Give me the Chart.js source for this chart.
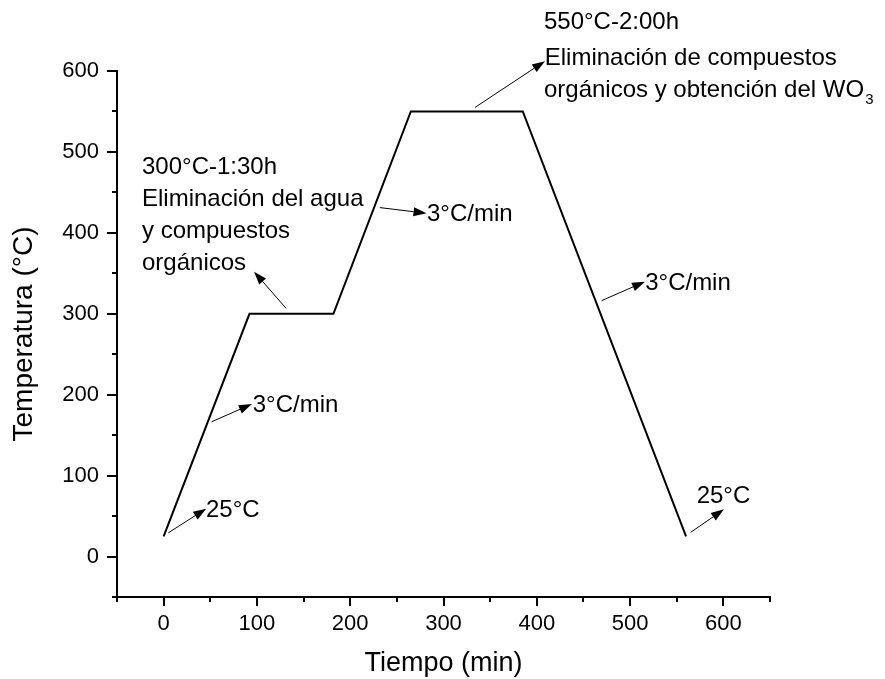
<!DOCTYPE html>
<html>
<head>
<meta charset="utf-8">
<script src="https://cdn.jsdelivr.net/npm/chart.js@4.4.1/dist/chart.umd.min.js"></script>
<style>
  html, body { margin: 0; padding: 0; background: #fff; }
  #wrap { width: 885px; height: 679px; }
</style>
</head>
<body>
<div id="wrap"><canvas id="rampChart"></canvas></div>
<script>
// heating programme: time (min) vs temperature (°C)
const timeMin = [0, 92, 182, 265, 385, 560];
const tempC = [25, 300, 300, 550, 550, 25];

// labelled ticks (minor ticks every 50 carry no label)
const xTickLabels = [0, 100, 200, 300, 400, 500, 600];
const yTickLabels = [0, 100, 200, 300, 400, 500, 600];

// arrows, in data units: [tailX, tailY, headX, headY]
const arrows = [
  [5, 29.3, 45.6, 59.2],
  [51.5, 166.6, 94.6, 188.4],
  [231.8, 431.2, 281.8, 424.2],
  [469.5, 316.2, 516, 339.7],
  [565, 29.9, 600.6, 58.3],
  [131.2, 306.8, 96.9, 352],
  [333.9, 555.1, 408.8, 612.2]
];

// text notes: left x and baseline y in data units
const noteText = [
  '25°C', '3°C/min', '3°C/min', '3°C/min', '25°C',
  '300°C-1:30h', 'Eliminación del agua', 'y compuestos', 'orgánicos',
  '550°C-2:00h', 'Eliminación de compuestos', 'orgánicos y obtención del WO'
];
const noteX = [45.4, 95.5, 282.3, 516.2, 571.4, -23.2, -23.2, -23.2, -23.2, 407.7, 408.5, 407.7];
const noteY = [48.8, 178, 414.7, 329.4, 66.1, 472.8, 433.3, 393.7, 354.1, 651.5, 607.5, 568];
const noteSub = ['', '', '', '', '', '', '', '', '', '', '', '3'];

const FONT = "'Liberation Sans', Arial, sans-serif";

const axisTicks = {
  id: 'axisTicks',
  afterDraw(chart) {
    const { ctx, chartArea, scales: { x, y } } = chart;
    ctx.save();
    ctx.strokeStyle = '#000';
    ctx.lineWidth = 2;
    ctx.beginPath();
    x.ticks.forEach(t => {
      const px = Math.round(x.getPixelForValue(t.value));
      const len = t.value % 100 === 0 ? 9 : 5;
      ctx.moveTo(px, chartArea.bottom);
      ctx.lineTo(px, chartArea.bottom + len);
    });
    y.ticks.forEach(t => {
      const py = Math.round(y.getPixelForValue(t.value));
      const len = t.value % 100 === 0 ? 10 : 5;
      ctx.moveTo(chartArea.left, py);
      ctx.lineTo(chartArea.left - len, py);
    });
    ctx.stroke();
    ctx.restore();
  }
};

const notes = {
  id: 'notes',
  afterDatasetsDraw(chart) {
    const { ctx, scales: { x, y } } = chart;
    ctx.save();
    ctx.strokeStyle = '#000';
    ctx.fillStyle = '#000';
    ctx.lineWidth = 1;
    arrows.forEach(([x0, y0, x1, y1]) => {
      const ax = x.getPixelForValue(x0), ay = y.getPixelForValue(y0);
      const bx = x.getPixelForValue(x1), by = y.getPixelForValue(y1);
      const ang = Math.atan2(by - ay, bx - ax);
      const hl = 13, hw = 4.5;
      const baseX = bx - hl * Math.cos(ang), baseY = by - hl * Math.sin(ang);
      ctx.beginPath();
      ctx.moveTo(ax, ay);
      ctx.lineTo(baseX, baseY);
      ctx.stroke();
      ctx.beginPath();
      ctx.moveTo(bx, by);
      ctx.lineTo(baseX + hw * Math.sin(ang), baseY - hw * Math.cos(ang));
      ctx.lineTo(baseX - hw * Math.sin(ang), baseY + hw * Math.cos(ang));
      ctx.closePath();
      ctx.fill();
    });
    ctx.textAlign = 'left';
    ctx.textBaseline = 'alphabetic';
    noteText.forEach((txt, i) => {
      const px = x.getPixelForValue(noteX[i]);
      const py = y.getPixelForValue(noteY[i]);
      ctx.font = '24px ' + FONT;
      ctx.fillText(txt, px, py);
      if (noteSub[i]) {
        const w = ctx.measureText(txt).width;
        ctx.font = '15px ' + FONT;
        ctx.fillText(noteSub[i], px + w + 1, py + 7);
      }
    });
    ctx.restore();
  }
};

new Chart(document.getElementById('rampChart'), {
  type: 'line',
  data: {
    datasets: [{
      data: timeMin.map((t, i) => ({ x: t, y: tempC[i] })),
      borderColor: '#000',
      borderWidth: 2,
      pointRadius: 0,
      tension: 0,
      fill: false
    }]
  },
  options: {
    responsive: true,
    maintainAspectRatio: false,
    animation: false,
    layout: { padding: { top: 71, right: 115, left: 0, bottom: 0 } },
    plugins: { legend: { display: false }, tooltip: { enabled: false } },
    scales: {
      x: {
        type: 'linear',
        min: -50,
        max: 650,
        afterFit: s => { s.height = 82; },
        grid: { drawOnChartArea: false, drawTicks: false },
        border: { color: '#000', width: 2 },
        ticks: {
          stepSize: 50,
          autoSkip: false,
          maxRotation: 0,
          padding: 14,
          color: '#000',
          font: { family: FONT, size: 22 },
          callback: v => xTickLabels.includes(v) ? String(v) : ''
        },
        title: {
          display: true,
          text: 'Tiempo (min)',
          color: '#000',
          font: { family: FONT, size: 27, lineHeight: 1 },
          padding: { top: 0, bottom: 2 }
        }
      },
      y: {
        type: 'linear',
        min: -50,
        max: 600,
        afterFit: s => { s.width = 117; },
        grid: { drawOnChartArea: false, drawTicks: false },
        border: { color: '#000', width: 2 },
        ticks: {
          stepSize: 50,
          autoSkip: false,
          padding: 18,
          color: '#000',
          font: { family: FONT, size: 22 },
          callback: v => yTickLabels.includes(v) ? String(v) : ''
        },
        title: {
          display: true,
          text: 'Temperatura (°C)',
          color: '#000',
          font: { family: FONT, size: 28, lineHeight: 1 },
          padding: { top: 10, bottom: 0 }
        }
      }
    }
  },
  plugins: [axisTicks, notes]
});
</script>
</body>
</html>
